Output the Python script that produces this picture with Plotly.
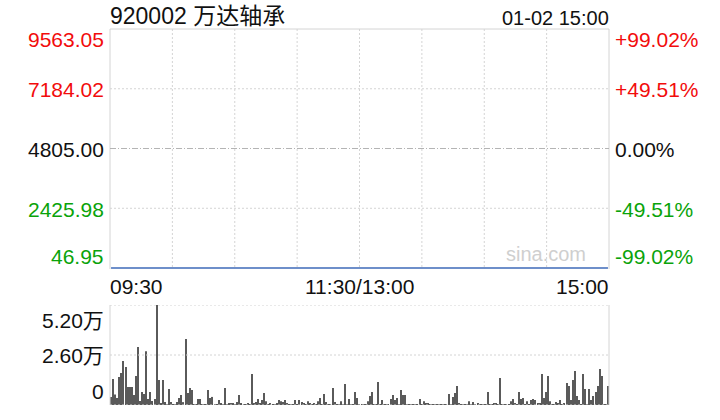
import plotly.graph_objects as go

# ---------------- data ----------------
stock_title = "920002 万达轴承"
date_label = "01-02 15:00"
price_levels = [9563.05, 7184.02, 4805.00, 2425.98, 46.95]
pct_levels = ["+99.02%", "+49.51%", "0.00%", "-49.51%", "-99.02%"]
prev_close = 4805.00
time_labels = ["09:30", "11:30/13:00", "15:00"]
vol_tick_values = [52000, 26000, 0]
vol_tick_labels = ["5.20万", "2.60万", "0"]

# price line (minute index -> price)
price_minutes = [0, 240]
price_values = [46.95, 46.95]

# per-minute volume (241 minutes)
volume = [
    4200, 13500, 5500, 3600, 14600, 16600, 22900, 19800, 9400, 9400,
    9400, 5200, 15100, 30200, 2100, 6800, 5700, 28000, 3100, 6800,
    2100, 3100, 52000, 13000, 1000, 13000, 1500, 500, 8300, 1500,
    500, 500, 1500, 3600, 5200, 1500, 34300, 6200, 8800, 7800,
    500, 300, 3100, 3100, 300, 200, 200, 7800, 3600, 4200,
    500, 300, 2600, 1000, 500, 8800, 500, 1000, 1000,
    1000, 500, 1500, 5200, 1000, 300, 500, 1000, 300, 16100,
    1000, 1500, 3100, 1000, 2600, 6200, 2000, 500, 1000, 300,
    300, 1000, 2600, 2000, 1500, 2600, 1000, 500, 500, 500,
    2600, 500, 2600, 1500, 1000, 300, 2000, 1000, 500, 1000,
    500, 2000, 3600, 300, 5700, 1500, 500, 300, 8800, 1500,
    500, 100, 2000, 500, 10900, 500, 3100, 500, 300, 6800,
    3600, 500,
    500, 500, 500, 2000, 4700, 6800, 300, 300, 12000, 500,
    2600, 500, 500, 500, 3100, 5200, 2600, 3600, 500, 7800,
    5200, 5200, 500, 300, 300, 500, 500, 500, 3100, 500,
    2000, 1000, 1000, 300, 300, 300, 300, 500, 500, 500,
    500, 300, 5700, 500, 4200, 6200, 9900, 1000, 500, 500,
    500, 500, 2000, 500, 1500, 500, 1000, 300, 500, 500,
    500,
    6800, 500, 500, 1000, 1000, 500, 14000, 500, 500, 500,
    300, 2000, 3100, 1000, 500, 6800, 3100, 3600, 500, 2000,
    500, 2600, 3100, 2600, 1000, 1000, 16100, 3600, 6800, 15100,
    2000, 300, 500, 1500, 1000, 2600, 500, 1000, 11400, 9900,
    2600, 13000, 17700, 4700, 2600, 300, 16100, 8300, 500, 8300,
    2600, 4700, 6800, 9900, 18700, 15100, 500, 500, 9900,
]
minutes = list(range(len(volume)))

# ---------------- styling / layout ----------------
W, H = 720, 420
PL, PR = 110, 609          # plot left/right px
PT, PB = 29, 269           # price panel top/bottom px
VT, VB = 305, 405          # volume panel top/bottom px
RED, GREEN, BLACK = "#f20c0c", "#0aa30a", "#111111"
GRID = "#d4d4d4"
FONT = "Liberation Sans, Arial, Noto Sans CJK SC, sans-serif"


def px(x):
    return x / W


def py(y):
    return 1 - y / H


fig = go.Figure()
fig.add_trace(go.Scatter(x=price_minutes, y=price_values, mode="lines",
                         line=dict(color="#6e8fca", width=2),
                         xaxis="x", yaxis="y", hoverinfo="skip"))
fig.add_trace(go.Bar(x=minutes, y=volume, width=0.5,
                     marker=dict(color="#5a5a5a", line=dict(width=0)),
                     xaxis="x2", yaxis="y2", hoverinfo="skip"))

axis_common = dict(showgrid=False, zeroline=False, showticklabels=False,
                   showline=False, ticks="")
n = len(volume)
fig.update_layout(
    width=W, height=H, margin=dict(l=0, r=0, t=0, b=0),
    paper_bgcolor="white", plot_bgcolor="white", showlegend=False,
    xaxis=dict(domain=[px(PL), px(PR)], range=[-0.5, n - 0.5], anchor="y", **axis_common),
    yaxis=dict(domain=[py(PB), py(PT)], range=[price_levels[-1] - 40, price_levels[0]],
               anchor="x", **axis_common),
    xaxis2=dict(domain=[px(PL), px(PR)], range=[-0.5, n - 0.5], anchor="y2", **axis_common),
    yaxis2=dict(domain=[py(VB), py(VT)], range=[0, vol_tick_values[0]], anchor="x2", **axis_common),
)

shapes = []
solid = dict(color=GRID, width=1)
dotted = dict(color=GRID, width=1, dash="2px,2px")
# price frame
shapes.append(dict(type="line", xref="paper", yref="paper", x0=px(PL), x1=px(PR), y0=py(PT), y1=py(PT), line=solid))
shapes.append(dict(type="line", xref="paper", yref="paper", x0=px(PL), x1=px(PL), y0=py(PT), y1=py(PB), line=solid))
shapes.append(dict(type="line", xref="paper", yref="paper", x0=px(PR), x1=px(PR), y0=py(PT), y1=py(PB), line=solid))
# vertical dotted grid (8 sections)
for k in range(1, 8):
    xv = -0.5 + k * n / 8
    shapes.append(dict(type="line", xref="x", yref="paper", x0=xv, x1=xv, y0=py(PT), y1=py(PB), line=dotted))
# horizontal grid in price panel
for lv in (price_levels[1], price_levels[3]):
    shapes.append(dict(type="line", xref="paper", yref="y", x0=px(PL), x1=px(PR), y0=lv, y1=lv, line=dotted))
shapes.append(dict(type="line", xref="paper", yref="y", x0=px(PL), x1=px(PR), y0=prev_close, y1=prev_close,
                   line=dict(color="#b4b4b4", width=1, dash="6px,2px,1px,2px")))
# volume frame
shapes.append(dict(type="line", xref="paper", yref="paper", x0=px(PL), x1=px(PL), y0=py(VT), y1=py(VB), line=solid))
shapes.append(dict(type="line", xref="paper", yref="paper", x0=px(PR), x1=px(PR), y0=py(VT), y1=py(VB), line=solid))
for tv in vol_tick_values:
    shapes.append(dict(type="line", xref="paper", yref="y2", x0=px(PL), x1=px(PR), y0=tv, y1=tv, line=dotted))
fig.update_layout(shapes=shapes)

ann = []


def label(text, x, y, xanchor, size, color=BLACK, yref="paper", yanchor="middle"):
    ann.append(dict(text=text, x=x, y=y, xref="paper", yref=yref, xanchor=xanchor,
                    yanchor=yanchor, showarrow=False,
                    font=dict(family=FONT, size=size, color=color)))


label(stock_title, px(PL - 2), py(16), "left", 23)
label(date_label, px(PR + 2), py(18), "right", 20)

price_colors = [RED, RED, BLACK, GREEN, GREEN]
price_y_px = [39, 89, 149, 209, 256]
for lv, c, ypx in zip(price_levels, price_colors, price_y_px):
    label(f"{lv:.2f}", px(106), py(ypx), "right", 21, c)
for txt, c, ypx in zip(pct_levels, price_colors, price_y_px):
    label(txt, px(613), py(ypx), "left", 21, c)

label(time_labels[0], px(PL - 2), py(286), "left", 21)
label(time_labels[1], px((PL + PR) / 2), py(286), "center", 21)
label(time_labels[2], px(PR + 2), py(286), "right", 21)

for txt, ypx in zip(vol_tick_labels, [320, 355, 391]):
    label(txt, px(106), py(ypx), "right", 21)

label("sina.com", px(546), py(254), "center", 20, "#cfcfcf")
fig.update_layout(annotations=ann)

fig.write_html("out.html")
